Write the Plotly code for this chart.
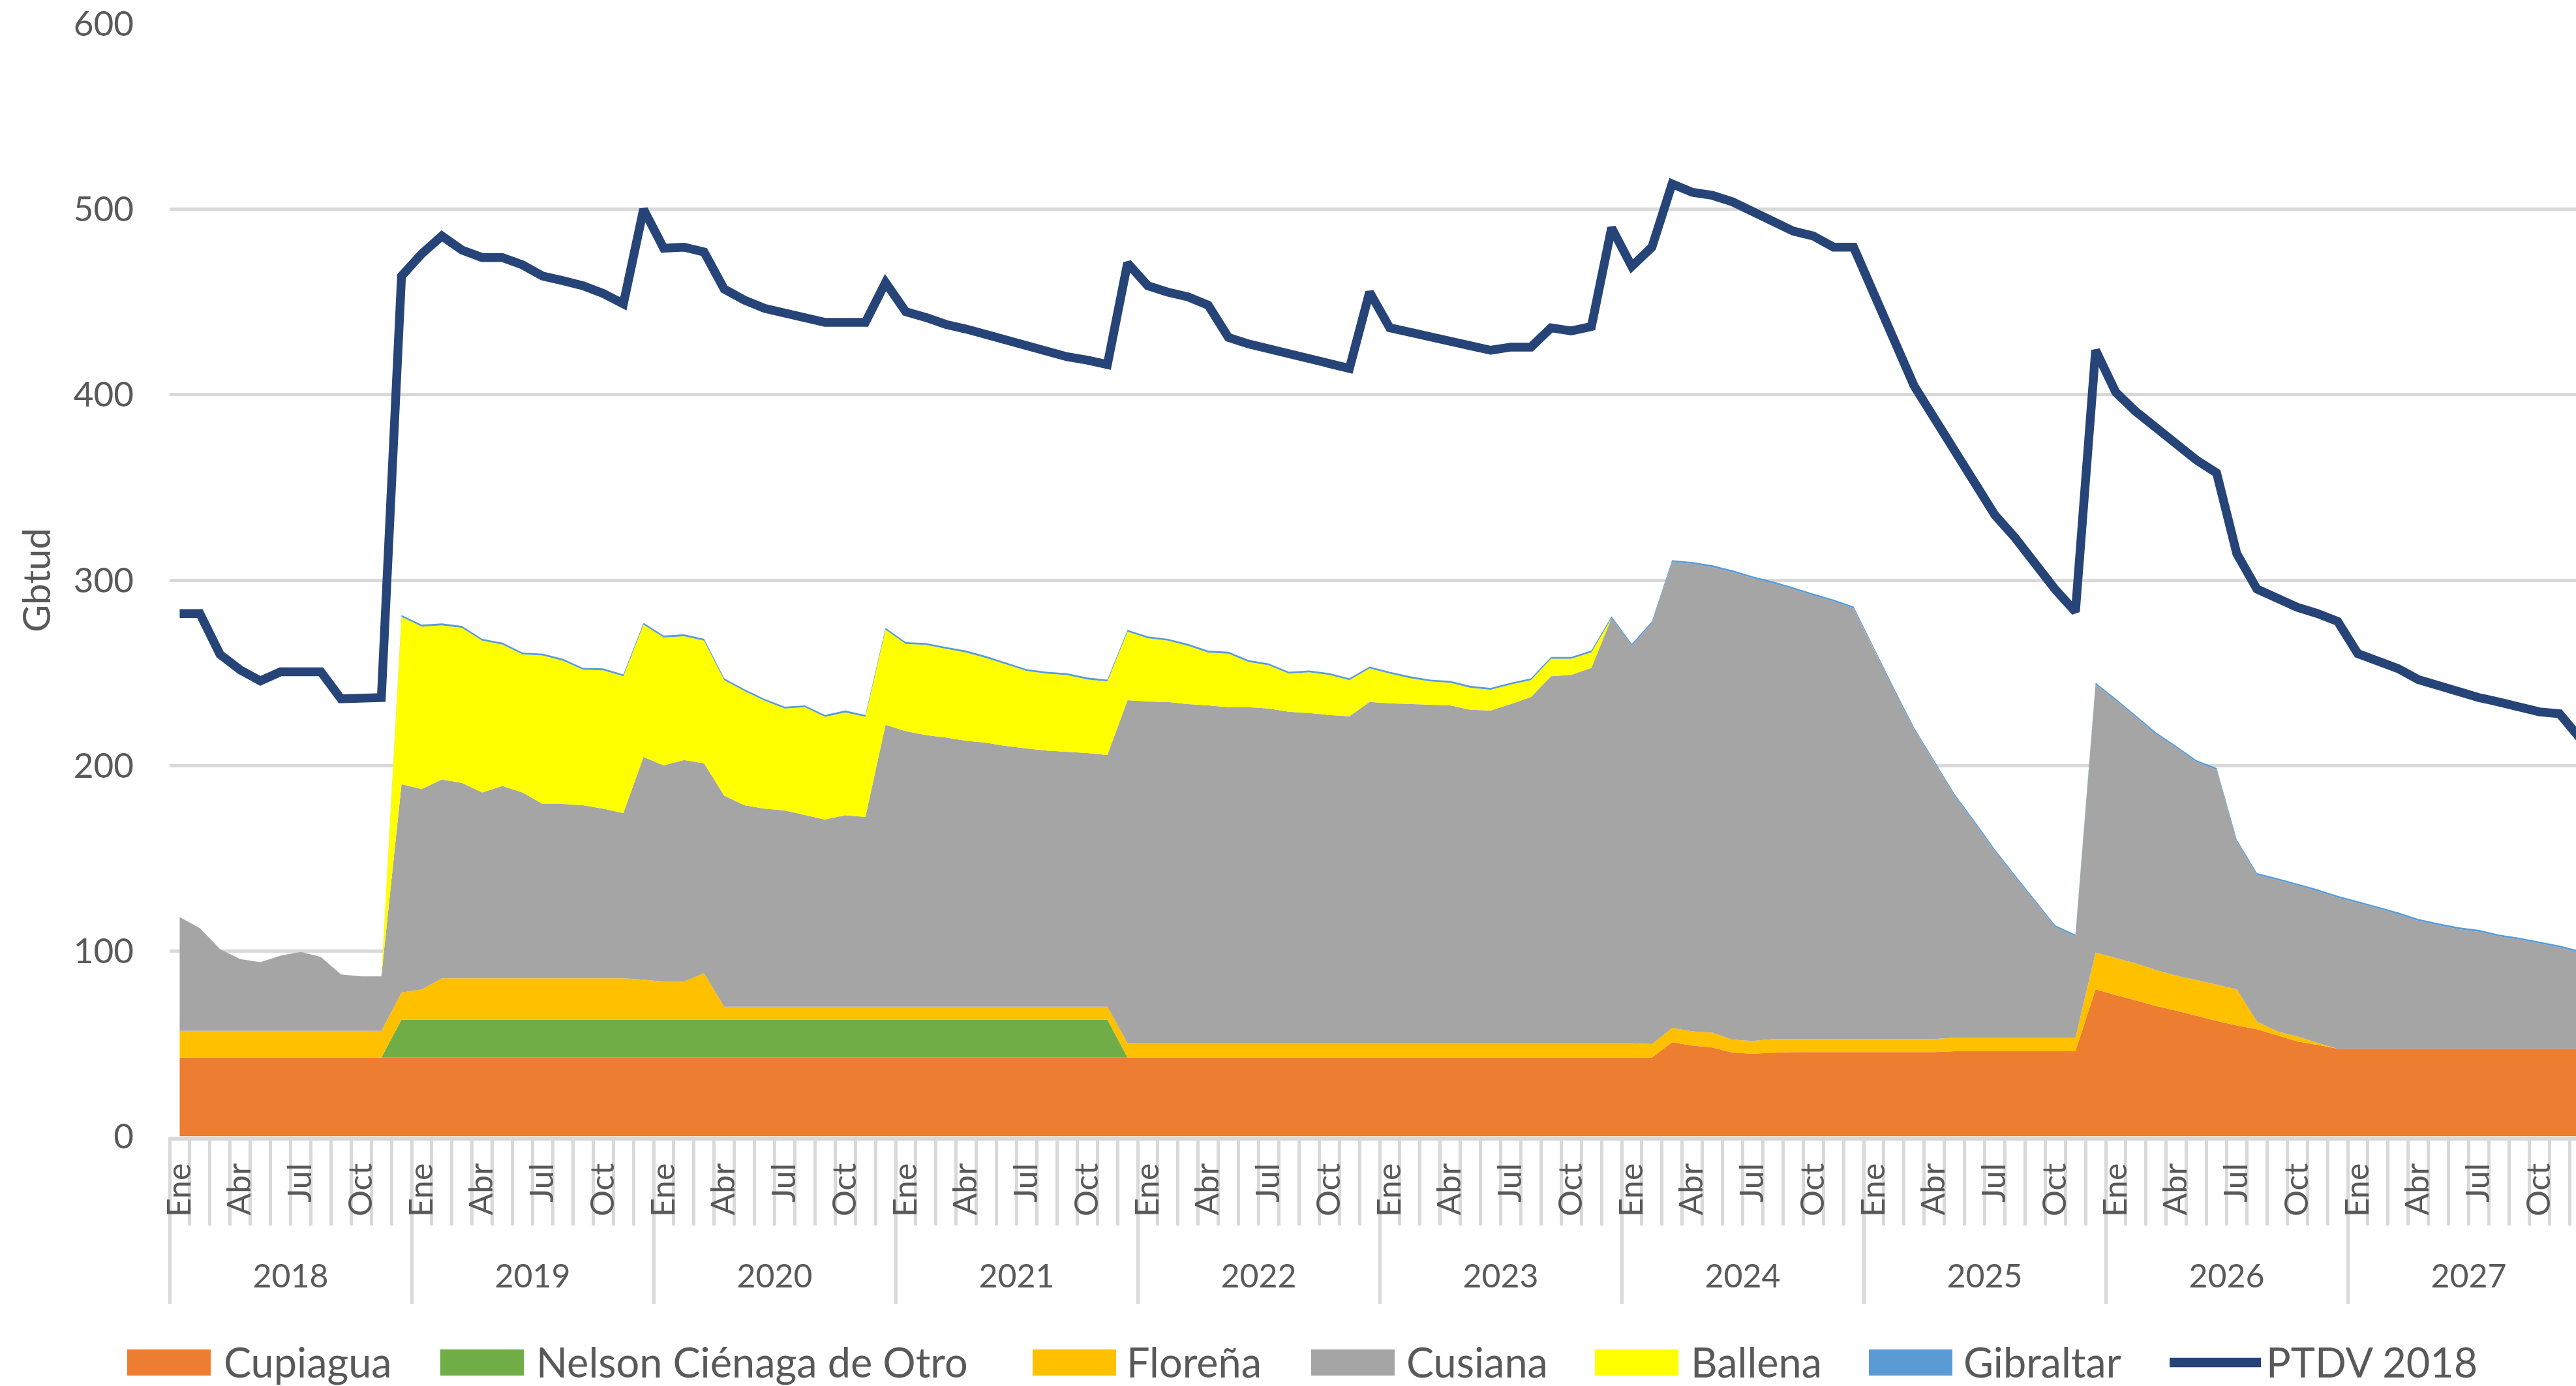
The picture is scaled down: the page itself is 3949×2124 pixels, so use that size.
import plotly.graph_objects as go

# ---------------- data ----------------
years = ["2018", "2019", "2020", "2021", "2022", "2023", "2024", "2025", "2026", "2027"]
months = ["Ene", "Feb", "Mar", "Abr", "May", "Jun", "Jul", "Ago", "Sep", "Oct", "Nov", "Dic"]
shown_months = ["Ene", "Abr", "Jul", "Oct"]

cupiagua = [
    42.5, 42.5, 42.5, 42.5, 42.5, 42.5, 42.5, 42.5, 42.5, 42.5, 42.5, 42.5,
    42.5, 42.5, 42.5, 42.5, 42.5, 42.5, 42.5, 42.5, 42.5, 42.5, 42.5, 42.5,
    42.5, 42.5, 42.5, 42.5, 42.5, 42.5, 42.5, 42.5, 42.5, 42.5, 42.5, 42.5,
    42.5, 42.5, 42.5, 42.5, 42.5, 42.5, 42.5, 42.5, 42.5, 42.5, 42.5, 42.5,
    42.5, 42.5, 42.5, 42.5, 42.5, 42.5, 42.5, 42.5, 42.5, 42.5, 42.5, 42.5,
    42.5, 42.5, 42.5, 42.5, 42.5, 42.5, 42.5, 42.5, 42.5, 42.5, 42.5, 42.5,
    42.5, 42.5, 50.8, 49.0, 48.0, 45.2, 44.6, 45.2, 45.5, 45.5, 45.5, 45.5,
    45.5, 45.5, 45.5, 45.5, 46.0, 46.0, 46.0, 46.0, 46.0, 46.0, 46.0, 79.4,
    76.2, 73.4, 70.3, 67.9, 65.1, 62.3, 59.9, 57.8, 54.6, 51.2, 49.4, 47.3,
    47.3, 47.3, 47.3, 47.3, 47.3, 47.3, 47.3, 47.3, 47.3, 47.3, 47.3, 47.3,
]
nelson = [
    0, 0, 0, 0, 0, 0, 0, 0, 0, 0, 0, 20.5,
    20.5, 20.5, 20.5, 20.5, 20.5, 20.5, 20.5, 20.5, 20.5, 20.5, 20.5, 20.5,
    20.5, 20.5, 20.5, 20.5, 20.5, 20.5, 20.5, 20.5, 20.5, 20.5, 20.5, 20.5,
    20.5, 20.5, 20.5, 20.5, 20.5, 20.5, 20.5, 20.5, 20.5, 20.5, 20.5, 0,
    0, 0, 0, 0, 0, 0, 0, 0, 0, 0, 0, 0,
    0, 0, 0, 0, 0, 0, 0, 0, 0, 0, 0, 0,
    0, 0, 0, 0, 0, 0, 0, 0, 0, 0, 0, 0,
    0, 0, 0, 0, 0, 0, 0, 0, 0, 0, 0, 0,
    0, 0, 0, 0, 0, 0, 0, 0, 0, 0, 0, 0,
    0, 0, 0, 0, 0, 0, 0, 0, 0, 0, 0, 0,
]
florena = [
    14.5, 14.5, 14.5, 14.5, 14.5, 14.5, 14.5, 14.5, 14.5, 14.5, 14.5, 14.6,
    16.3, 22.3, 22.3, 22.3, 22.3, 22.3, 22.3, 22.3, 22.3, 22.3, 22.3, 21.6,
    20.5, 20.5, 25.0, 7.0, 7.0, 7.0, 7.0, 7.0, 7.0, 7.0, 7.0, 7.0,
    7.0, 7.0, 7.0, 7.0, 7.0, 7.0, 7.0, 7.0, 7.0, 7.0, 7.0, 7.8,
    7.8, 7.8, 7.8, 7.8, 7.8, 7.8, 7.8, 7.8, 7.8, 7.8, 7.8, 7.8,
    7.8, 7.8, 7.8, 7.8, 7.8, 7.8, 7.8, 7.8, 7.8, 7.8, 7.8, 7.8,
    7.8, 7.3, 7.7, 7.7, 8.0, 7.0, 6.9, 7.4, 7.1, 7.1, 7.1, 7.1,
    7.1, 7.1, 7.1, 7.1, 7.3, 7.3, 7.3, 7.3, 7.3, 7.3, 7.3, 19.8,
    20.0, 19.9, 19.5, 18.8, 19.3, 19.7, 19.5, 4.2, 2.1, 2.8, 1.1, 0,
    0, 0, 0, 0, 0, 0, 0, 0, 0, 0, 0, 0,
]
cusiana = [
    61.3, 55.4, 44.0, 38.7, 37.0, 40.5, 42.5, 39.8, 30.4, 29.3, 29.3, 112.4,
    108.0, 107.2, 105.4, 100.2, 103.7, 100.2, 94.0, 94.0, 93.3, 91.5, 89.1, 120.1,
    116.6, 119.5, 113.2, 113.8, 108.6, 106.8, 105.8, 103.3, 100.9, 103.3, 102.3, 152.0,
    148.6, 146.5, 145.1, 143.4, 142.3, 140.6, 139.2, 138.1, 137.4, 136.8, 135.7, 185.0,
    184.3, 184.0, 182.9, 182.2, 181.2, 181.2, 180.5, 178.7, 178.0, 177.0, 176.3, 184.0,
    183.3, 182.9, 182.6, 182.2, 179.8, 179.4, 182.9, 186.7, 197.9, 198.6, 202.4, 229.2,
    214.3, 227.0, 251.3, 252.1, 251.0, 252.1, 249.6, 245.7, 242.6, 239.1, 236.0, 232.2,
    210.0, 188.2, 166.9, 149.0, 130.5, 115.8, 100.6, 86.8, 73.1, 59.6, 54.6, 144.5,
    138.9, 132.8, 127.1, 122.9, 117.5, 115.7, 79.7, 79.0, 81.6, 81.3, 81.8, 81.5,
    78.6, 75.6, 72.5, 69.0, 66.6, 64.5, 63.1, 60.6, 58.9, 56.8, 54.7, 51.9,
]
ballena = [
    0, 0, 0, 0, 0, 0, 0, 0, 0, 0, 0, 90.2,
    87.7, 83.2, 83.6, 81.9, 76.3, 74.5, 80.1, 77.3, 73.1, 74.6, 73.8, 71.3,
    69.0, 66.8, 66.2, 62.3, 61.6, 58.2, 55.0, 58.2, 55.4, 55.4, 54.0, 51.3,
    47.0, 48.6, 47.9, 47.6, 45.7, 44.0, 41.8, 41.5, 41.4, 39.7, 39.7, 36.9,
    34.1, 33.1, 31.4, 28.5, 28.9, 24.4, 23.3, 20.6, 22.0, 21.6, 19.5, 18.1,
    16.0, 14.0, 12.5, 12.2, 11.9, 11.2, 10.5, 9.1, 9.4, 8.7, 8.4, 0,
    0, 0, 0, 0, 0, 0, 0, 0, 0, 0, 0, 0,
    0, 0, 0, 0, 0, 0, 0, 0, 0, 0, 0, 0,
    0, 0, 0, 0, 0, 0, 0, 0, 0, 0, 0, 0,
    0, 0, 0, 0, 0, 0, 0, 0, 0, 0, 0, 0,
]
gibraltar = [
    0, 0, 0, 0, 0, 0, 0, 0, 0, 0, 0, 1.0,
    1.0, 1.0, 1.0, 1.0, 1.0, 1.0, 1.0, 1.0, 1.0, 1.0, 1.0, 1.0,
    1.0, 1.0, 1.0, 1.0, 1.0, 1.0, 1.0, 1.0, 1.0, 1.0, 1.0, 1.0,
    1.0, 1.0, 1.0, 1.0, 1.0, 1.0, 1.0, 1.0, 1.0, 1.0, 1.0, 1.0,
    1.0, 1.0, 1.0, 1.0, 1.0, 1.0, 1.0, 1.0, 1.0, 1.0, 1.0, 1.0,
    1.0, 1.0, 1.0, 1.0, 1.0, 1.0, 1.0, 1.0, 1.0, 1.0, 1.0, 1.0,
    1.0, 1.0, 1.0, 1.0, 1.0, 1.0, 1.0, 1.0, 1.0, 1.0, 1.0, 1.0,
    1.0, 1.0, 1.0, 1.0, 1.0, 1.0, 1.0, 1.0, 1.0, 1.0, 1.0, 1.0,
    1.0, 1.0, 1.0, 1.0, 1.0, 1.0, 1.0, 1.0, 1.0, 1.0, 1.0, 1.0,
    1.0, 1.0, 1.0, 1.0, 1.0, 1.0, 1.0, 1.0, 1.0, 1.0, 1.0, 1.0,
]
ptdv = [
    282, 282, 260, 251.6, 245.7, 250.6, 250.6, 250.6, 236, 236.7, 236.7, 464,
    476, 485.6, 478, 474, 474, 470, 464, 461.5, 458.8, 454.6, 449, 500,
    479, 479.6, 477, 457, 451, 446.6, 443.8, 441.4, 439, 439, 439, 460.5,
    444.8, 441.7, 437.9, 435.4, 432.3, 429.2, 425.7, 422.6, 420.5, 418.7, 416.3, 471,
    458.8, 455.3, 452.8, 448.3, 430.9, 427.4, 425, 422.2, 419.8, 417, 414.2, 455.3,
    436.1, 433.7, 430.9, 428.5, 426.4, 424, 425.7, 425.7, 436.1, 434.4, 436.8, 490,
    469.2, 479.6, 513.7, 509.2, 507.5, 504, 498.8, 493.6, 488.3, 485.6, 479.6, 479.6,
    455.3, 430.9, 404.8, 387.4, 370, 352.6, 335.2, 323, 309, 295, 283, 424,
    401.3, 390.9, 382.2, 373.5, 364.8, 357.8, 314.3, 295.2, 290, 285.4, 282, 277.8,
    260.4, 256.2, 252.3, 246.4, 243, 240.2, 236.7, 234.3, 231.5, 229, 228, 215,
]

series_names = ["Cupiagua", "Nelson Ciénaga de Otro", "Floreña", "Cusiana", "Ballena", "Gibraltar"]
series_values = [cupiagua, nelson, florena, cusiana, ballena, gibraltar]
line_name = "PTDV 2018"

# ---------------- styles ----------------
area_colors = ["#ED7D31", "#70AD47", "#FFC000", "#A5A5A5", "#FFFF00", "#5B9BD5"]
line_color = "#264478"
text_color = "#595959"
grid_color = "#D9D9D9"
FONT = "Lato"

W, H = 3949, 2124
ML = 260               # plot left edge (px)
PLOT_TOP, PLOT_BOTTOM = 36.6, 1741.6
XR = [-0.5, 118.82]

n_months = len(months)
n = len(years) * n_months
x = list(range(n))

fig = go.Figure()
for name, vals, col in zip(series_names, series_values, area_colors):
    fig.add_trace(go.Scatter(
        x=x, y=vals, name=name, mode="lines", stackgroup="prod",
        line=dict(width=0, color=col), fillcolor=col, hoverinfo="skip",
    ))
fig.add_trace(go.Scatter(
    x=x, y=ptdv, name=line_name, mode="lines",
    line=dict(color=line_color, width=13.5), hoverinfo="skip",
))
# carriers for the helper axes
for ax in ["x2", "x3", "x4"]:
    fig.add_trace(go.Scatter(x=[0], y=[None], xaxis=ax, yaxis="y", mode="lines",
                             showlegend=False, hoverinfo="skip"))

month_tickvals = [i for i in x if months[i % n_months] in shown_months]
month_ticktext = [months[i % n_months] for i in month_tickvals]
month_bounds = [i - 0.5 for i in range(n + 1)]
year_bounds = [k * n_months - 0.5 for k in range(len(years) + 1)]
year_centers = [k * n_months + (n_months - 1) / 2 for k in range(len(years))]

y_dom = [(H - PLOT_BOTTOM) / H, (H - PLOT_TOP) / H]


def py(Y):
    return (H - Y) / H


def px_(X):
    return (X - ML) / (W - ML)


common_x = dict(range=XR, showgrid=False, zeroline=False, automargin=False, fixedrange=True)

fig.update_layout(
    template="none",
    width=W, height=H, autosize=False,
    margin=dict(l=ML, r=0, t=0, b=0, pad=0, autoexpand=False),
    plot_bgcolor="white", paper_bgcolor="white",
    showlegend=False,
    font=dict(family=FONT, color=text_color),
    yaxis=dict(
        domain=y_dom, range=[0, 600], tickmode="linear", tick0=0, dtick=100,
        showgrid=True, gridcolor=grid_color, gridwidth=5, zeroline=False,
        showline=False, ticks="", ticklabelstandoff=54, automargin=False, fixedrange=True,
        tickfont=dict(size=53, color=text_color, family=FONT),
        title=dict(text="Gbtud", font=dict(size=58, color=text_color, family=FONT), standoff=16),
    ),
    # main axis: axis line + year dividers
    xaxis=dict(
        **common_x, tickmode="array", tickvals=year_bounds,
        ticks="outside", ticklen=250, tickwidth=5, tickcolor=grid_color,
        showticklabels=False, showline=True, linecolor=grid_color, linewidth=6,
    ),
    # month boundary ticks
    xaxis2=dict(
        **common_x, overlaying="x", anchor="y", tickmode="array", tickvals=month_bounds,
        ticks="outside", ticklen=135, tickwidth=5, tickcolor=grid_color,
        showticklabels=False, showline=False,
    ),
    # month labels
    xaxis3=dict(
        **common_x, overlaying="x", anchor="y", tickmode="array",
        tickvals=month_tickvals, ticktext=month_ticktext, tickangle=-90,
        tickfont=dict(size=50, color=text_color, family=FONT),
        ticks="", ticklabelstandoff=30, showline=False,
    ),
    # year labels
    xaxis4=dict(
        **common_x, overlaying="x", anchor="free", position=py(1922),
        tickmode="array", tickvals=year_centers, ticktext=years, ticks="",
        tickfont=dict(size=50, color=text_color, family=FONT), showline=False,
    ),
)

# ---------------- legend (drawn like the Excel legend) ----------------
legend_swatch_left = [195, 675, 1583, 2010, 2445, 2865]
legend_text_left = [341, 820, 1725, 2154, 2590, 3008]
SW_W = 128
SW_TOP, SW_BOT = 2068, 2108
LEG_TEXT_Y = 2086
for sx, tx, name, col in zip(legend_swatch_left, legend_text_left, series_names, area_colors):
    fig.add_shape(type="rect", xref="paper", yref="paper",
                  x0=px_(sx), x1=px_(sx + SW_W), y0=py(SW_BOT), y1=py(SW_TOP),
                  fillcolor=col, line=dict(width=0))
    fig.add_annotation(xref="paper", yref="paper", x=px_(tx), y=py(LEG_TEXT_Y),
                       xanchor="left", yanchor="middle", text=name, showarrow=False,
                       font=dict(size=63, color=text_color, family=FONT))
fig.add_shape(type="line", xref="paper", yref="paper",
              x0=px_(3326), x1=px_(3466), y0=py(2088), y1=py(2088),
              line=dict(color=line_color, width=14.5))
fig.add_annotation(xref="paper", yref="paper", x=px_(3472), y=py(LEG_TEXT_Y),
                   xanchor="left", yanchor="middle", text=line_name, showarrow=False,
                   font=dict(size=63, color=text_color, family=FONT))

fig.write_html("out.html",
               config={"displayModeBar": False, "staticPlot": True},
               post_script="document.body.style.margin='0';document.body.style.overflow='hidden';")
